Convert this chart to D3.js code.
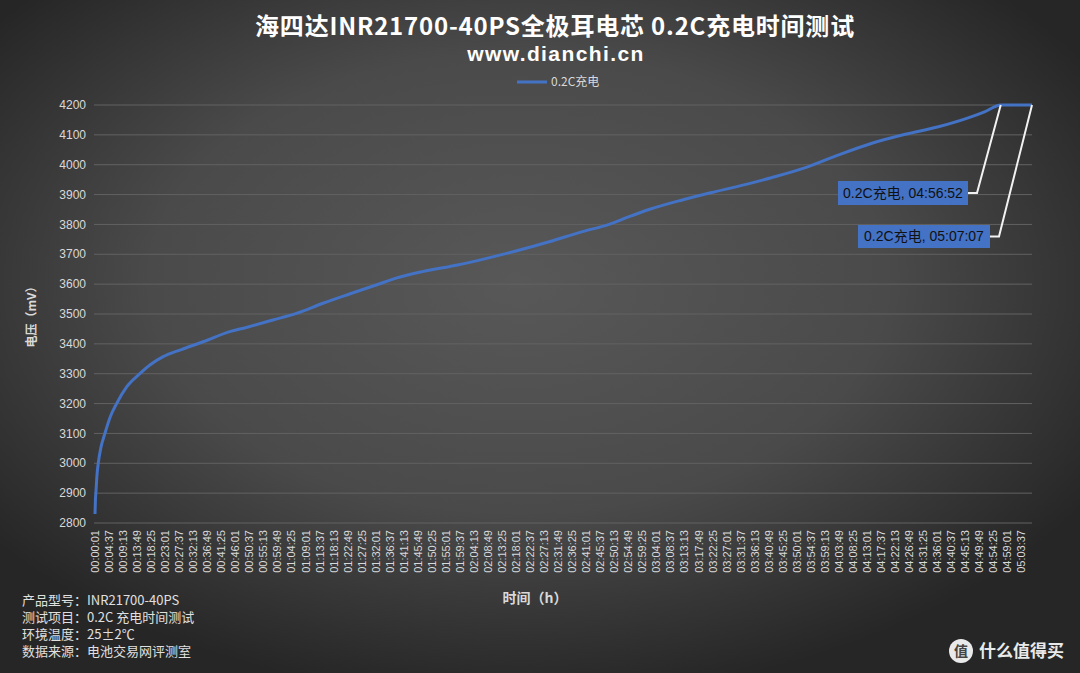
<!DOCTYPE html>
<html>
<head>
<meta charset="utf-8">
<script src="https://cdn.jsdelivr.net/npm/d3@7"></script>
<style>
  html, body { margin: 0; padding: 0; background: #333; }
  svg { display: block; }
</style>
</head>
<body>
<div id="container"></div>
<script>
// ==============
//  DATA
// ==============

// elapsed time (s) and cell voltage (mV)
var timeSec = [1, 10, 20, 40, 65, 120, 196, 300, 426, 620, 883, 1080, 1341, 1700, 2126, 2650, 2978, 3500,
  3960, 4482, 5006, 5530, 5923, 6445, 7132, 7623, 8278, 8932, 9586, 10110, 10503, 10895, 11549,
  12205, 12825, 13316, 13972, 14625, 15279, 15935, 16588, 17242, 17505, 17812, 18427];
var voltage = [2830, 2880, 2905, 2960, 3000, 3055, 3100, 3155, 3200, 3255, 3300, 3329, 3357, 3381, 3407, 3441, 3455, 3480,
  3502, 3536, 3567, 3597, 3620, 3642, 3664, 3683, 3711, 3742, 3776, 3800, 3826, 3850, 3882,
  3910, 3935, 3957, 3990, 4033, 4072, 4102, 4127, 4161, 4178, 4200, 4200];

var seriesName = "0.2C充电";
var yTicks = d3.range(2800, 4201, 100);
// category labels: every 4:36 from 00:00:01
var xTickSec = d3.range(0, 67).map(i => 1 + i * 276);
var callouts = [
  {t: 17812, label: "0.2C充电, 04:56:52"},
  {t: 18427, label: "0.2C充电, 05:07:07"}
];
var notes = ["产品型号：INR21700-40PS", "测试项目：0.2C 充电时间测试", "环境温度：25±2℃", "数据来源：电池交易网评测室"];

// ==============
//  OPTIONS
// ==============

var W = 1080, H = 673;
var plot = {left: 95, right: 1032, top: 105, bottom: 523};
var colLine = "#4472C4",
    colText = "#d9d9d9",
    colGrid = "#626262";
var fontNum = "'Liberation Sans', 'Noto Sans CJK SC', sans-serif",
    fontCJK = "'Noto Sans CJK SC', 'Liberation Sans', sans-serif";

function fmt(s) {
  var h = Math.floor(s / 3600), m = Math.floor(s % 3600 / 60), ss = s % 60;
  return [h, m, ss].map(v => String(v).padStart(2, "0")).join(":");
}

// ==============
//  DRAW
// ==============

var svg = d3.select("#container").append("svg")
  .attr("width", W).attr("height", H);

var defs = svg.append("defs");
var grad = defs.append("radialGradient").attr("id", "bg")
  .attr("cx", "48%").attr("cy", "42%").attr("r", "62%");
grad.append("stop").attr("offset", "0%").attr("stop-color", "#585858");
grad.append("stop").attr("offset", "55%").attr("stop-color", "#4a4a4a");
grad.append("stop").attr("offset", "100%").attr("stop-color", "#262626");

svg.append("rect").attr("width", W).attr("height", H).attr("fill", "url(#bg)");

var x = d3.scaleLinear().domain([1, 18427]).range([plot.left, plot.right]);
var y = d3.scaleLinear().domain([2800, 4200]).range([plot.bottom, plot.top]);

// === grid
svg.append("g")
  .selectAll("line")
  .data(yTicks)
  .join("line")
    .attr("x1", plot.left - 1).attr("x2", plot.right)
    .attr("y1", d => y(d)).attr("y2", d => y(d))
    .attr("stroke", colGrid).attr("stroke-width", 1);

// === y axis labels
svg.append("g")
  .style("font", "12px " + fontNum)
  .attr("fill", colText)
  .selectAll("text")
  .data(yTicks)
  .join("text")
    .attr("x", 86)
    .attr("y", d => y(d))
    .attr("dy", "0.35em")
    .attr("text-anchor", "end")
    .text(d => d);

svg.append("text")
  .attr("transform", "translate(36," + (plot.top + plot.bottom) / 2 + ") rotate(-90)")
  .attr("text-anchor", "middle")
  .style("font", "bold 12px " + fontCJK)
  .attr("fill", colText)
  .text("电压（mV）");

// === x axis labels (rotated)
svg.append("g")
  .style("font", "11px " + fontNum)
  .attr("fill", colText)
  .selectAll("text")
  .data(xTickSec)
  .join("text")
    .attr("transform", d => "translate(" + (x(d) + 4) + ",530) rotate(-90)")
    .attr("text-anchor", "end")
    .text(d => fmt(d));

svg.append("text")
  .attr("x", 535).attr("y", 603)
  .attr("text-anchor", "middle")
  .style("font", "bold 14px " + fontCJK)
  .attr("fill", colText)
  .text("时间（h）");

// === line
var line = d3.line()
  .x((d, i) => x(timeSec[i]))
  .y(d => y(d))
  .curve(d3.curveMonotoneX);

svg.append("path")
  .datum(voltage)
  .attr("d", line)
  .attr("fill", "none")
  .attr("stroke", colLine)
  .attr("stroke-width", 3)
  .attr("stroke-linejoin", "round");

// === callouts
var boxes = [{x: 838, y: 181, w: 130, h: 24}, {x: 858, y: 225, w: 132, h: 23}];
callouts.forEach(function(c, i) {
  var b = boxes[i],
      px = x(c.t), py = y(4200);
  svg.append("polyline")
    .attr("points", [[b.x + b.w, b.y + b.h / 2], [b.x + b.w + 9, b.y + b.h / 2], [px, py]].join(" "))
    .attr("fill", "none")
    .attr("stroke", "#f2f2f2")
    .attr("stroke-width", 2);
  svg.append("rect")
    .attr("x", b.x).attr("y", b.y).attr("width", b.w).attr("height", b.h)
    .attr("fill", colLine);
  svg.append("text")
    .attr("x", b.x + b.w / 2).attr("y", b.y + b.h / 2)
    .attr("dy", "0.35em")
    .attr("text-anchor", "middle")
    .style("font", "14px " + fontNum)
    .attr("fill", "#111")
    .text(c.label);
});

// === title
svg.append("text")
  .attr("x", 555).attr("y", 35)
  .attr("text-anchor", "middle")
  .style("font", "bold 24px " + fontCJK)
  .style("letter-spacing", "0.8px")
  .attr("fill", "#fff")
  .text("海四达INR21700-40PS全极耳电芯 0.2C充电时间测试");

svg.append("text")
  .attr("x", 556).attr("y", 61)
  .attr("text-anchor", "middle")
  .style("font", "bold 21px 'Liberation Sans', sans-serif")
  .style("letter-spacing", "1.4px")
  .attr("fill", "#fff")
  .text("www.dianchi.cn");

// === legend
svg.append("line")
  .attr("x1", 517).attr("x2", 547).attr("y1", 82).attr("y2", 82)
  .attr("stroke", colLine).attr("stroke-width", 3);
svg.append("text")
  .attr("x", 551).attr("y", 82).attr("dy", "0.35em")
  .style("font", "12px " + fontCJK)
  .attr("fill", colText)
  .text(seriesName);

// === notes
svg.append("g")
  .style("font", "13px " + fontCJK)
  .attr("fill", "#e0e0e0")
  .selectAll("text")
  .data(notes)
  .join("text")
    .attr("x", 22)
    .attr("y", (d, i) => 605 + i * 17)
    .text(d => d);

// === watermark
var wm = svg.append("g").attr("transform", "translate(961,651)");
wm.append("circle").attr("r", 12).attr("fill", "#fff").attr("opacity", 0.9);
wm.append("text").attr("text-anchor", "middle").attr("dy", "0.35em")
  .style("font", "bold 14px " + fontCJK).attr("fill", "#444").text("值");
wm.append("text").attr("x", 18).attr("dy", "0.35em")
  .style("font", "bold 17px " + fontCJK).attr("fill", "#fff").attr("opacity", 0.9)
  .text("什么值得买");
</script>
</body>
</html>
